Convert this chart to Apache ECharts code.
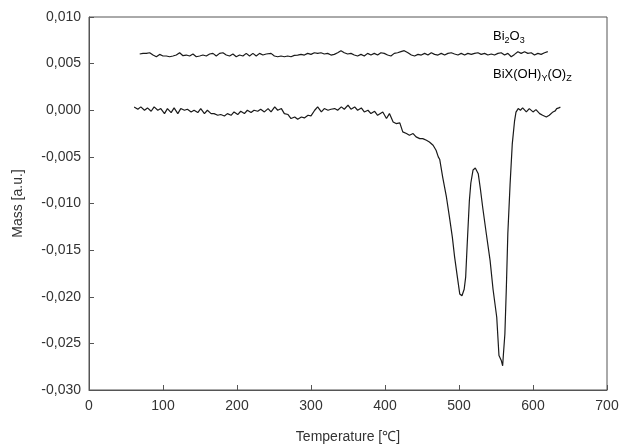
<!DOCTYPE html>
<html><head><meta charset="utf-8">
<script src="https://cdn.jsdelivr.net/npm/echarts@6/dist/echarts.min.js"></script>
<style>html,body{margin:0;padding:0;background:#fff}#c{width:622px;height:445px}</style>
</head><body><div id="c"></div>
<script>
// Bi2O3 (upper trace)
var upperT = [68.5,73,77.5,82,86.5,91,95.5,100,104.5,109,113.5,118,122.5,127,131.5,136,140.5,145,149.5,154,158.5,163,167.5,172,176.5,181,185.5,190,194.5,199,203.5,208,212.5,217,221.5,226,230.5,235,239.5,
  246,250.5,255,259.5,264,268.5,273,277.5,282,286.5,291,295.5,300,304.5,309,313.5,318,322.5,327,331.5,336,340.5,345,349.5,354,358.5,363,367.5,372,376.5,381,385.5,390,394.5,399,403.5,408,412.5,417,421.5,426,
  431,435.6,440,444.6,449,453.6,458,462.6,467,471.6,476,480.6,485,489.6,494,498.6,503,507.6,512,516.6,521,525.6,530,534.6,539,543.6,548,552.6,557,561.6,566,570.6,575,579.6,584,588.6,593,597.6,602,606.6,611,615.6,620];
var upperV = [0.00603,0.0061,0.0061,0.00617,0.00592,0.00574,0.00599,0.00582,0.00582,0.00574,0.00582,0.00592,0.00617,0.00585,0.00592,0.00582,0.00603,0.00574,0.00582,0.00592,0.00582,0.00603,0.0061,0.00582,0.0061,0.00617,0.00592,0.00582,0.00603,0.00574,0.00592,0.00582,0.0061,0.00582,0.0061,0.00582,0.0061,0.00592,0.00603,
  0.0061,0.00582,0.00574,0.00582,0.00574,0.00582,0.00574,0.00589,0.00592,0.00599,0.00592,0.0061,0.00599,0.00617,0.0061,0.00617,0.00603,0.0061,0.00592,0.00599,0.00617,0.00639,0.00617,0.00603,0.0061,0.00592,0.00582,0.00599,0.00582,0.0061,0.00592,0.0061,0.00592,0.00617,0.0061,0.00592,0.00582,0.0061,0.00617,0.00628,0.00639,
  0.00617,0.00592,0.00582,0.00599,0.00592,0.0061,0.00592,0.00617,0.00599,0.00592,0.0061,0.00592,0.0061,0.00617,0.00603,0.00592,0.0061,0.00592,0.0061,0.00599,0.0061,0.00617,0.00599,0.0061,0.00592,0.00603,0.00592,0.0061,0.00617,0.00592,0.0061,0.00574,0.00599,0.00628,0.0061,0.00628,0.0061,0.00617,0.00592,0.0061,0.00599,0.00617,0.00628];

// BiX(OH)Y(O)Z (lower trace)
var lowerT = [61,66,70,75,79,84,88,93,97,102,106,111,115,120,124,129,133,138,142,147,151,156,160,165,169,174,178,183,187,192,196,201,205,210,214,219,223,228,232,237,
  242,246,251,255,260,264,269,273,278,282,287,291,296,300,305,309,314,318,323,327,332,336,341,345,350,354,359,363,368,372,377,381,386,390,
  397,402,406,411,415,420,424,429,433,438,442,447,451,456,460,465,469,472,474,
  478,483,487,491,494,498,501,504,507,509,511,514,516,519,522,526,529,532,537,542,546,551,554,557,559,560,562,564,566,569,572,575,577,
  580,583,586,591,595,600,604,609,613,618,622,627,630,632,635,637];
var lowerV = [0.00036,0.00011,0.00036,0,0.00025,-0.00011,0.00036,0,0.00018,-0.00036,0.00018,-0.00025,0.00025,-0.00036,0.00018,0,0.00011,-0.00018,0,-0.00025,0.00018,-0.00036,0,-0.00036,-0.00036,-0.00054,-0.00046,-0.00061,-0.00036,-0.00054,-0.00018,-0.00046,-0.00011,-0.00036,0,-0.00025,0,-0.00011,0.00011,-0.00018,
  0.00018,-0.00018,0.00036,0,0.00018,-0.00036,-0.00046,-0.00089,-0.00072,-0.00097,-0.00072,-0.00082,-0.00054,-0.00061,0,0.00036,-0.00018,0.00018,0,0.00011,0.00018,0,0.00036,0.00011,0.00054,0.00011,0.00036,0,0.00025,-0.00018,0,-0.00036,-0.00011,-0.00054,
  -0.00018,-0.00089,-0.00036,-0.00125,-0.00143,-0.00136,-0.00232,-0.0025,-0.00268,-0.0025,-0.00286,-0.00304,-0.00304,-0.00322,-0.0034,-0.00376,-0.00429,-0.005,-0.00529,
  -0.0072,-0.0093,-0.0114,-0.0136,-0.0157,-0.018,-0.0197,-0.0199,-0.0192,-0.0179,-0.0145,-0.0097,-0.0078,-0.0064,-0.0062,-0.0068,-0.0085,-0.0104,-0.0133,-0.0161,-0.0192,-0.0222,-0.0263,-0.0268,-0.0274,-0.0262,-0.024,-0.019,-0.0132,-0.008,-0.0036,-0.0012,-0.0002,
  0.00018,0,0.00025,-0.00018,0.00018,-0.00018,0.00007,-0.00036,-0.00054,-0.00072,-0.00054,-0.00018,-0.00007,0.00018,0.00025,0.00036];

var xTicks = [0,100,200,300,400,500,600,700];
var yTicks = [-0.030,-0.025,-0.020,-0.015,-0.010,-0.005,0.000,0.005,0.010];
var xTitle = 'Temperature [\u2103]';
var yTitle = 'Mass [a.u.]';

function zip(a,b){var r=[];for(var i=0;i<a.length;i++)r.push([a[i],b[i]]);return r;}
var FONT = '"Liberation Sans", Arial, sans-serif';
var chart = echarts.init(document.getElementById('c'));
chart.setOption({
  animation:false,
  backgroundColor:'#fff',
  grid:{left:89,right:15,top:17,bottom:55,show:true,borderColor:'#555',borderWidth:1,containLabel:false,outerBoundsMode:'none'},
  xAxis:{type:'value',min:xTicks[0],max:xTicks[xTicks.length-1],interval:100,
    name:xTitle,nameLocation:'middle',nameGap:40,
    nameTextStyle:{fontFamily:FONT,fontSize:14,color:'#333'},
    axisLine:{show:true,onZero:false,lineStyle:{color:'#555',width:1}},
    axisTick:{show:true,inside:true,length:5,lineStyle:{color:'#555'}},
    axisLabel:{fontFamily:FONT,fontSize:14,color:'#333',margin:9},
    splitLine:{show:false}},
  yAxis:{type:'value',min:yTicks[0],max:yTicks[yTicks.length-1],interval:0.005,
    name:yTitle,nameLocation:'middle',nameGap:64,nameRotate:90,
    nameTextStyle:{fontFamily:FONT,fontSize:14,color:'#333'},
    axisLine:{show:true,onZero:false,lineStyle:{color:'#555',width:1}},
    axisTick:{show:true,inside:true,length:5,lineStyle:{color:'#555'}},
    axisLabel:{fontFamily:FONT,fontSize:14,color:'#333',margin:8,
      formatter:function(v){var n=Math.round(v*1000)/1000; if(Math.abs(n)<1e-9)n=0; return n.toFixed(3).replace('.',',');}},
    splitLine:{show:false}},
  series:[
    {type:'line',name:'Bi2O3',data:zip(upperT,upperV),showSymbol:false,lineStyle:{color:'#1a1a1a',width:1.2}},
    {type:'line',name:'BiX',data:zip(lowerT,lowerV),showSymbol:false,lineStyle:{color:'#1a1a1a',width:1.2}}
  ],
  graphic:[
    {type:'text',left:493,top:30,style:{text:'{a|Bi}{s|2}{a|O}{s|3}',rich:{a:{fontFamily:FONT,fontSize:13,color:'#333',lineHeight:18,verticalAlign:'middle'},s:{fontFamily:FONT,fontSize:9,color:'#333',lineHeight:18,verticalAlign:'bottom'}}}},
    {type:'text',left:493,top:68,style:{text:'{a|BiX(OH)}{s|Y}{a|(O)}{s|Z}',rich:{a:{fontFamily:FONT,fontSize:13,color:'#333',lineHeight:18,verticalAlign:'middle'},s:{fontFamily:FONT,fontSize:9,color:'#333',lineHeight:18,verticalAlign:'bottom'}}}}
  ]
});
</script></body></html>
